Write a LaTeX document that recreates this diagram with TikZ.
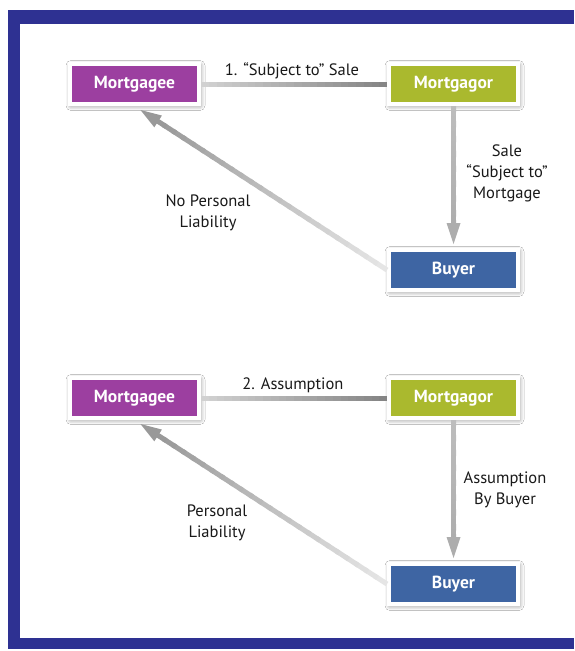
\documentclass[tikz,border=0pt]{standalone}
\usepackage{fontspec}
\setmainfont{PT Sans}
\usetikzlibrary{calc,arrows.meta,shadows.blur}
\definecolor{frameblue}{HTML}{2E3192}
\definecolor{mgee}{HTML}{9C3FA0}
\definecolor{mgor}{HTML}{AAB92E}
\definecolor{buyerblue}{HTML}{3E65A3}
\newcommand{\gradline}[5]{%
  \foreach \i in {0,...,23}{%
    \pgfmathsetmacro{\ta}{\i/24}%
    \pgfmathsetmacro{\tb}{min((\i+1.3)/24,1)}%
    \pgfmathsetmacro{\cc}{#3+(#4-#3)*\i/23}%
    \draw[line width=#5, draw=black!\cc] ($(#1)!\ta!(#2)$) -- ($(#1)!\tb!(#2)$);
  }}
\tikzset{
  party/.style={fill=#1, draw=white, line width=4pt, minimum width=129pt, minimum height=40pt,
    inner sep=0pt, text=white, font=\bfseries\fontsize{17.5}{20}\selectfont,
    blur shadow={shadow xshift=1pt, shadow yshift=-1.5pt, shadow blur radius=5pt, shadow opacity=55}},
  lbl/.style={font=\fontsize{16.5}{21}\selectfont, align=center, text=black!90, inner sep=0pt},
  tipdiag/.style={line width=5pt, -{Triangle[length=21pt,width=14pt,line width=0pt]}},
}
\begin{document}
\begin{tikzpicture}[x=1pt,y=-1pt]
\useasboundingbox (0,0) rectangle (574,651);
\fill[white] (0,0) rectangle (574,651);
\fill[frameblue] (8,10) rectangle (574,649);
\fill[white] (20,24) rectangle (574,638);

% ---- top section
\node[party=mgee] (ge1) at (134.5,84) {Mortgagee};
\node[party=mgor] (gor1) at (453.5,84) {Mortgagor};
\node[party=buyerblue] (b1) at (453.5,270) {Buyer};

\gradline{ge1.east}{gor1.west}{18}{48}{5pt}

\coordinate (t1) at ($(ge1.south)+(6,4)$);
\coordinate (t1s) at ($(t1)!19pt!(b1.west)$);
\gradline{b1.west}{t1s}{10}{40}{5pt}
\draw[tipdiag, draw=black!40] ($(t1)!21pt!(b1.west)$) -- (t1);

\coordinate (v1) at ($(b1.north)+(0,-4)$);
\coordinate (v1s) at ($(v1)+(0,-19)$);
\gradline{gor1.south}{v1s}{26}{32}{5pt}
\draw[tipdiag, draw=black!32] ($(v1)+(0,-21)$) -- (v1);

\node[lbl] (l1) at (292,71) {1. “Subject to” Sale};
\node[lbl] (l2) at (507,173) {Sale\\“Subject to”\\Mortgage};
\node[lbl] (l3) at (208,213) {No Personal\\Liability};

% ---- bottom section
\node[party=mgee] (ge2) at (134.5,398) {Mortgagee};
\node[party=mgor] (gor2) at (453.5,398) {Mortgagor};
\node[party=buyerblue] (b2) at (453.5,584) {Buyer};

\gradline{ge2.east}{gor2.west}{18}{48}{5pt}

\coordinate (t2) at ($(ge2.south)+(6,4)$);
\coordinate (t2s) at ($(t2)!19pt!(b2.west)$);
\gradline{b2.west}{t2s}{10}{40}{5pt}
\draw[tipdiag, draw=black!40] ($(t2)!21pt!(b2.west)$) -- (t2);

\coordinate (v2) at ($(b2.north)+(0,-4)$);
\coordinate (v2s) at ($(v2)+(0,-19)$);
\gradline{gor2.south}{v2s}{26}{32}{5pt}
\draw[tipdiag, draw=black!32] ($(v2)+(0,-21)$) -- (v2);

\node[lbl] (l4) at (293,385) {2. Assumption};
\node[lbl] (l5) at (505,490) {Assumption\\By Buyer};
\node[lbl] (l6) at (217,523) {Personal\\Liability};
\end{tikzpicture}
\end{document}
